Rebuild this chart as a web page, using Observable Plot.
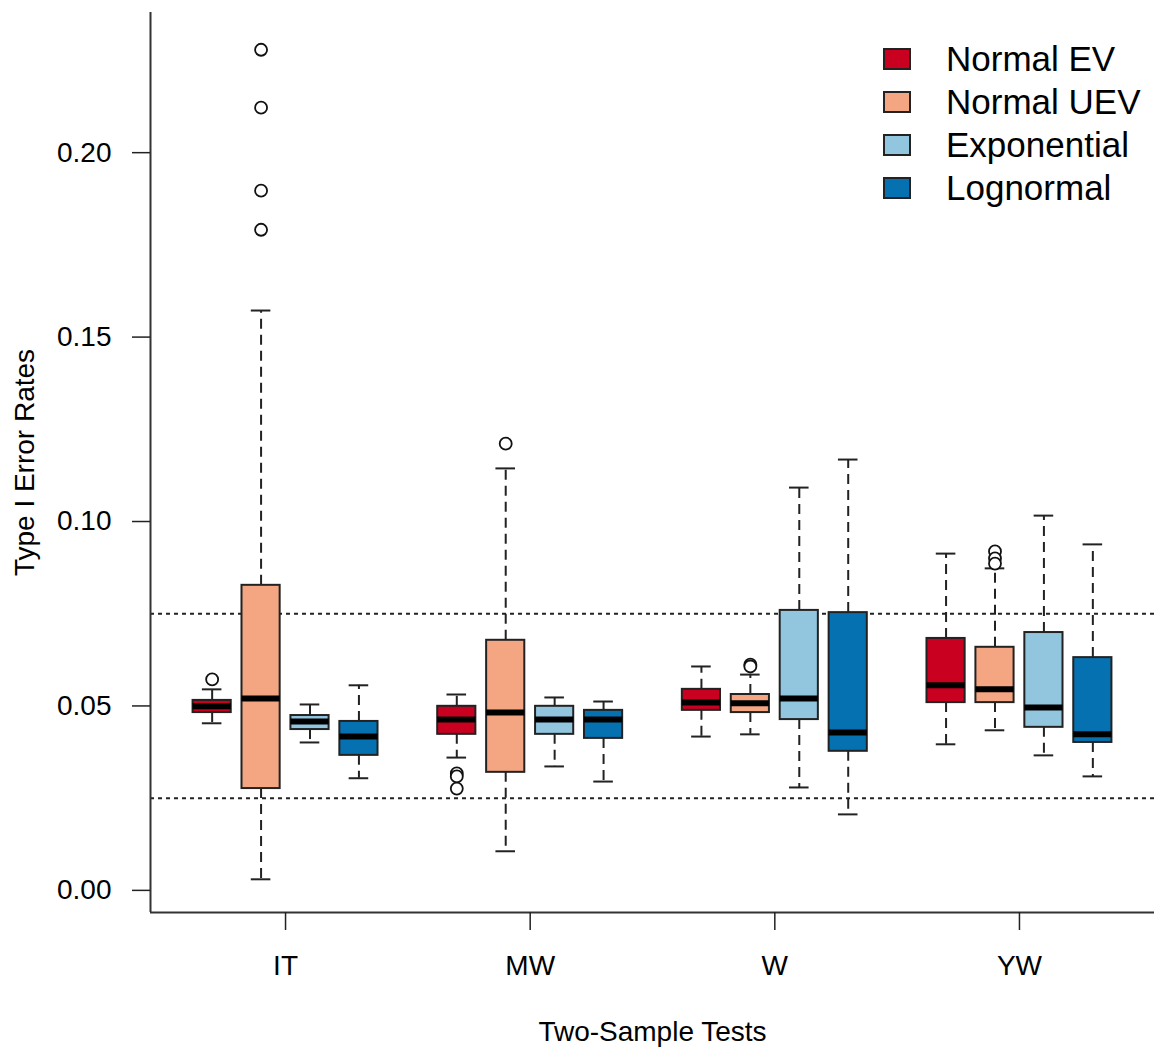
<!DOCTYPE html>
<html>
<head>
<meta charset="utf-8">
<script src="https://cdn.jsdelivr.net/npm/d3@7"></script>
<script src="https://cdn.jsdelivr.net/npm/@observablehq/plot@0.6"></script>
<style>
  html, body { margin: 0; padding: 0; background: #fff; }
  #wrap { position: relative; width: 1154px; height: 1058px; font-family: "Liberation Sans", Arial, sans-serif; }
  #legend { position: absolute; left: 883px; top: 37px; }
  .row { display: flex; align-items: center; height: 43px; }
  .sw { width: 28px; height: 22px; box-sizing: border-box; border: 2px solid #222; margin-right: 35px; }
  .lab { font-size: 35px; color: #000; line-height: 43px; }
</style>
</head>
<body>
<div id="wrap"><div id="legend"></div></div>
<script>
const tests = ["IT", "MW", "W", "YW"];
const dists = ["Normal EV", "Normal UEV", "Exponential", "Lognormal"];
const colors = ["#CA0020", "#F4A582", "#92C5DE", "#0571B0"];

// per test (IT, MW, W, YW), per distribution (EV, UEV, Exp, LogN)
const whiskerLow  = [0.0453, 0.0030, 0.0401, 0.0304,  0.0360, 0.0106, 0.0336, 0.0295,  0.0417, 0.0423, 0.0279, 0.0206,  0.0396, 0.0434, 0.0366, 0.0309];
const q1          = [0.0482, 0.0276, 0.0436, 0.0366,  0.0423, 0.0320, 0.0423, 0.0412,  0.0488, 0.0482, 0.0463, 0.0377,  0.0509, 0.0509, 0.0442, 0.0401];
const median      = [0.0499, 0.0520, 0.0458, 0.0417,  0.0463, 0.0482, 0.0463, 0.0463,  0.0509, 0.0507, 0.0520, 0.0428,  0.0556, 0.0545, 0.0496, 0.0423];
const q3          = [0.0515, 0.0827, 0.0474, 0.0458,  0.0499, 0.0678, 0.0499, 0.0488,  0.0545, 0.0531, 0.0759, 0.0753,  0.0683, 0.0659, 0.0699, 0.0631];
const whiskerHigh = [0.0545, 0.1572, 0.0504, 0.0556,  0.0531, 0.1144, 0.0523, 0.0512,  0.0607, 0.0585, 0.1092, 0.1168,  0.0913, 0.0873, 0.1016, 0.0938];

// outliers: [test index, distribution index, value]
const outliers = [
  [0, 0, 0.0572],
  [0, 1, 0.2279], [0, 1, 0.2122], [0, 1, 0.1897], [0, 1, 0.1791],
  [1, 0, 0.0317], [1, 0, 0.0309], [1, 0, 0.0276],
  [1, 1, 0.1211],
  [2, 1, 0.0612], [2, 1, 0.0607],
  [3, 1, 0.0919], [3, 1, 0.0900], [3, 1, 0.0886]
];

const refLines = [0.025, 0.075];
const yTicks = [0, 0.05, 0.10, 0.15, 0.20];

const pos = (t, d) => t * 5 + d + 1;
const boxes = [];
tests.forEach((t, ti) => dists.forEach((dname, di) => {
  const i = ti * 4 + di;
  boxes.push({test: t, dist: dname, pos: pos(ti, di), low: whiskerLow[i], q1: q1[i], med: median[i], q3: q3[i], high: whiskerHigh[i]});
}));
const outs = outliers.map(([ti, di, v]) => ({pos: pos(ti, di), dist: dists[di], v}));
const groupCenters = tests.map((t, ti) => ti * 5 + 2.5);

const xDomain = [-0.26, 20.26];
const yDomain = [-0.006, 0.238];
const hw = 0.39, cw = 0.2;

const chart = Plot.plot({
  width: 1154,
  height: 1058,
  marginLeft: 150,
  marginRight: 0,
  marginTop: 12,
  marginBottom: 146,
  style: {fontFamily: "Liberation Sans, Arial, sans-serif", fontSize: "28px", color: "#000", background: "#fff"},
  x: {type: "linear", domain: xDomain, axis: null},
  y: {domain: yDomain, axis: null},
  color: {domain: dists, range: colors},
  marks: [
    Plot.ruleY(refLines, {stroke: "#222", strokeWidth: 2, strokeDasharray: "4,4"}),
    Plot.ruleX(boxes, {x: "pos", y1: "q3", y2: "high", stroke: "#222", strokeWidth: 2, strokeDasharray: "10,6"}),
    Plot.ruleX(boxes, {x: "pos", y1: "q1", y2: "low", stroke: "#222", strokeWidth: 2, strokeDasharray: "10,6"}),
    Plot.ruleY(boxes, {y: "high", x1: d => d.pos - cw, x2: d => d.pos + cw, stroke: "#222", strokeWidth: 2}),
    Plot.ruleY(boxes, {y: "low", x1: d => d.pos - cw, x2: d => d.pos + cw, stroke: "#222", strokeWidth: 2}),
    Plot.rect(boxes, {x1: d => d.pos - hw, x2: d => d.pos + hw, y1: "q1", y2: "q3", fill: "dist", stroke: "#222", strokeWidth: 2}),
    Plot.ruleY(boxes, {y: "med", x1: d => d.pos - hw, x2: d => d.pos + hw, stroke: "#000", strokeWidth: 6}),
    Plot.dot(outs, {x: "pos", y: "v", r: 6, fill: "#fff", stroke: "#111", strokeWidth: 1.8}),
    Plot.ruleX([xDomain[0]], {stroke: "#333", strokeWidth: 2}),
    Plot.ruleY([yDomain[0]], {stroke: "#333", strokeWidth: 2}),
    Plot.axisY({ticks: yTicks, tickFormat: d3.format(".2f"), tickSize: 18, tickPadding: 21, fontSize: 28, label: null, stroke: "#222", strokeWidth: 1.5}),
    Plot.axisX({ticks: groupCenters, tickFormat: d => tests[groupCenters.indexOf(d)], tickSize: 18, tickPadding: 25, fontSize: 28, label: null, stroke: "#222", strokeWidth: 1.5}),
    Plot.text(["Type I Error Rates"], {frameAnchor: "left", dx: -125, rotate: -90, textAnchor: "middle", fontSize: 28, fill: "#000"}),
    Plot.text(["Two-Sample Tests"], {frameAnchor: "bottom", dy: 128, textAnchor: "middle", fontSize: 28, fill: "#000"})
  ]
});
document.getElementById("wrap").prepend(chart);

const legend = document.getElementById("legend");
dists.forEach((d, i) => {
  const row = document.createElement("div");
  row.className = "row";
  const sw = document.createElement("div");
  sw.className = "sw";
  sw.style.background = colors[i];
  const lab = document.createElement("div");
  lab.className = "lab";
  lab.textContent = d;
  row.append(sw, lab);
  legend.append(row);
});
</script>
</body>
</html>
